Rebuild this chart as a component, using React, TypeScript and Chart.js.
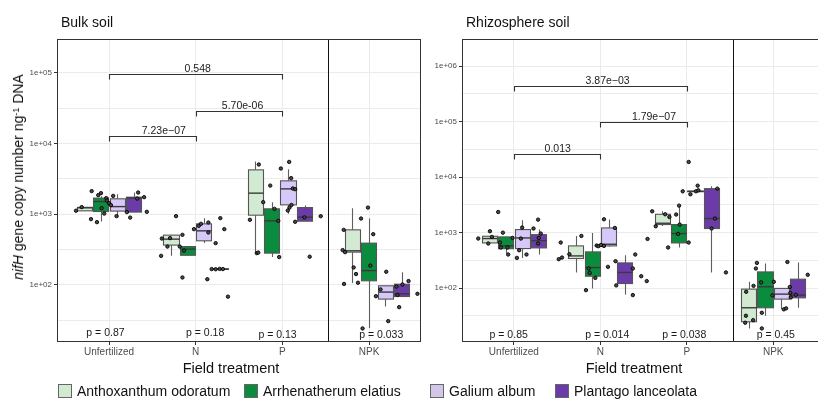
import React, { useEffect, useRef } from 'react';
import { Chart, registerables } from 'chart.js';

Chart.register(...registerables);

const FONT = '"Liberation Sans", Arial, Helvetica, sans-serif';

const treatments = ['Unfertilized', 'N', 'P', 'NPK'];
const species = ['Anthoxanthum odoratum', 'Arrhenatherum elatius', 'Galium album', 'Plantago lanceolata'];
const fillColors = ['#d2e9d2', '#0b8b3d', '#d6c8f8', '#6b3ca7'];
const legendColors = ['#d2e9d2', '#0b8b3d', '#d3c6ea', '#6b3ca7'];

// Box statistics: [lower whisker, Q1, median, Q3, upper whisker] for Unfertilized, N, P, NPK
const bulkAntho = [[1110, 1115, 1230, 1250, 1260], [257, 365, 443, 505, 510], [286, 968, 1985, 4240, 5560], [106, 290, 303, 600, 1215]];
const bulkArrh = [[787, 1090, 1510, 1690, 1790], [257, 262, 320, 348, 352], [247, 281, 805, 1190, 1480], [24.4, 114, 159, 389, 867]];
const bulkGalium = [[895, 1105, 1280, 1650, 1920], [390, 420, 581, 729, 879], [1010, 1355, 2280, 2965, 4340], [49.3, 62.8, 78.9, 96.8, 98]];
const bulkPlantago = [[1070, 1070, 1690, 1740, 2020], [162, 165, 167, 168, 170], [796, 796, 908, 1240, 1325], [68, 68.3, 74.6, 102, 151]];

const rhizoAntho = [[640, 653, 783, 861, 870], [192, 342, 381, 577, 873], [1318, 1400, 1477, 2143, 2427], [18.8, 24.8, 44.3, 96, 130]];
const rhizoArrh = [[421, 513, 581, 838, 840], [98.8, 164, 235, 450, 988], [540, 653, 964, 1400, 3020], [31.8, 44.3, 106, 196, 278]];
const rhizoGalium = [[351, 517, 803, 1137, 1670], [560, 577, 618, 1216, 1722], [5500, 5540, 5560, 5580, 5600], [41.9, 63.4, 78, 98.8, 100]];
const rhizoPlantago = [[404, 531, 718, 920, 1137], [77, 121, 192, 285, 393], [192, 1187, 1795, 6210, 6840], [44.3, 66.9, 74.8, 145, 290]];

// Individual observations (x in treatment units incl. jitter, y copy number)
const bulkPointX = [
  -0.381, -0.315, -0.208, -0.2, -0.139, -0.124, -0.093, -0.085, -0.055, -0.032, -0.024, 0, 0.022, 0.048, 0.087, 0.206, 0.244, 0.336, 0.325, 0.405, 0.436,
  0.601, 0.609, 0.674, 0.704, 0.773, 0.816, 0.847, 0.847, 0.865, 0.98, 1.035, 1.061, 1.134, 1.146, 1.146, 1.23, 1.284, 1.33, 1.372, 1.184, 1.23, 1.276, 1.314,
  1.728, 1.625, 1.705, 1.722, 1.779, 1.86, 1.909, 1.952, 1.963, 1.982, 2.078, 2.101, 2.12, 2.147, 2.062, 2.082, 2.105, 2.147, 2.254, 2.442, 2.315,
  2.707, 2.695, 2.723, 2.711, 2.822, 2.849, 2.872, 2.907, 2.987, 3.014, 3.048, 2.925, 3.079, 3.132, 3.198, 3.221, 3.316, 3.328, 3.347, 3.385, 3.455, 3.558,
];
const bulkPointY = [
  1120, 1260, 851, 2120, 771, 1860, 1985, 1217, 1020, 1690, 1560, 1430, 1343, 1815, 938, 1070, 895, 2027, 1663, 1741, 1080,
  257, 452, 348, 458, 938, 348, 510, 127, 305, 614, 684, 730, 120, 762, 550, 389, 879, 614, 68, 167, 166, 168, 167,
  5050, 832, 281, 286, 1480, 2540, 1190, 805, 247, 4430, 5500, 3240, 2310, 2260, 1127, 1240, 1350, 780, 900, 937, 250,
  600, 310, 290, 103, 176, 142, 107, 867, 1240, 187, 521, 24.1, 69, 86, 153, 30.6, 94.6, 72, 48.3, 101, 113, 74.6,
];
const rhizoPointX = [
  -0.412, -0.277, -0.254, -0.296, -0.181, -0.127, -0.161, -0.15, -0.073, -0.066, -0.015, 0.096, 0.081, 0.061, 0.035, 0.146, 0.28, 0.227, 0.311, 0.288, 0.28,
  0.542, 0.519, 0.557, 0.642, 0.781, 0.834, 0.865, 0.877, 0.942, 0.957, 0.977, 1.007, 1.042, 1.042, 1.088, 1.168, 1.176, 1.184, 1.376, 1.376, 1.404, 1.473, 1.537,
  1.546, 1.6, 1.641, 1.75, 1.799, 1.784, 1.877, 1.9, 1.918, 1.911, 2.022, 1.953, 2.022, 2.042, 2.107, 2.134, 2.126, 2.353, 2.326, 2.287, 2.453,
  2.676, 2.684, 2.687, 2.772, 2.768, 2.799, 2.811, 2.86, 2.868, 2.868, 3.007, 2.991, 3.122, 3.149, 3.164, 3.192, 3.198, 3.203, 3.261, 3.399,
];
const rhizoPointY = [
  783, 1060, 838, 637, 2355, 1000, 664, 540, 540, 404, 804, 1236, 783, 482, 351, 404, 1717, 1187, 964, 803, 637,
  664, 333, 356, 409, 873, 92, 226, 188, 153, 586, 570, 600, 1742, 577, 242, 1216, 306, 112, 226, 75, 404, 164, 134,
  771, 2427, 1303, 2143, 1915, 540, 2120, 948, 1400, 3070, 664, 5560, 18800, 4910, 5560, 5800, 7030, 6210, 1795, 1187, 192,
  23.8, 31.8, 86, 110, 26.5, 226, 285, 127, 36, 18.8, 130, 74, 41.5, 43.2, 296, 105, 82, 68, 76, 174,
];

// Y gridlines / tick labels
const bulkYGrid = [31.62, 100, 316.2, 1000, 3162, 10000, 31620, 100000];
const bulkYLabels = ['', '1e+02', '', '1e+03', '', '1e+04', '', '1e+05'];
const rhizoYGrid = [31.62, 100, 316.2, 1000, 3162, 10000, 31620, 100000, 316200, 1000000];
const rhizoYLabels = ['', '1e+02', '', '1e+03', '', '1e+04', '', '1e+05', '', '1e+06'];

// Pairwise comparison brackets
const bulkBracketFrom = [0, 1, 0];
const bulkBracketTo = [1, 2, 2];
const bulkBracketY = [12700, 29200, 96900];
const bulkBracketLabels = ['7.23e\u221207', '5.70e-06', '0.548'];
const bulkBracketLabelX = [0.632, 1.54, 1.023];
const rhizoBracketFrom = [0, 1, 0];
const rhizoBracketTo = [1, 2, 2];
const rhizoBracketY = [26100, 97500, 431000];
const rhizoBracketLabels = ['0.013', '1.79e\u221207', '3.87e\u221203'];
const rhizoBracketLabelX = [0.507, 1.62, 1.084];

// Kruskal-Wallis p-values per treatment
const bulkPLabels = ['p = 0.87', 'p = 0.18', 'p = 0.13', 'p = 0.033'];
const bulkPX = [-0.041, 1.109, 1.944, 3.14];
const bulkPY = [20.9, 20.9, 19.6, 19.6];
const rhizoPLabels = ['p = 0.85', 'p = 0.014', 'p = 0.038', 'p = 0.45'];
const rhizoPX = [-0.06, 1.08, 1.97, 3.03];
const rhizoPY = [14.3, 14.3, 14.3, 14.3];

const DODGE = [-0.285, -0.095, 0.095, 0.285];
const BOX_HALF = 0.087;
const SEPARATOR = 2.53;

type PanelCfg = {
  boxes: number[][][];
  shift: number[];
  px: number[];
  py: number[];
  yMin: number;
  yMax: number;
  yGrid: number[];
  yLabels: string[];
  bFrom: number[];
  bTo: number[];
  bY: number[];
  bLabels: string[];
  bLabelX: number[];
  pLabels: string[];
  pX: number[];
  pY: number[];
  axisWidth: number;
  canvasWidth: number;
};

const bulkCfg: PanelCfg = {
  boxes: [bulkAntho, bulkArrh, bulkGalium, bulkPlantago],
  shift: [0, 0, -0.03, 0.09],
  px: bulkPointX, py: bulkPointY,
  yMin: 15.5, yMax: 302000,
  yGrid: bulkYGrid, yLabels: bulkYLabels,
  bFrom: bulkBracketFrom, bTo: bulkBracketTo, bY: bulkBracketY, bLabels: bulkBracketLabels, bLabelX: bulkBracketLabelX,
  pLabels: bulkPLabels, pX: bulkPX, pY: bulkPY,
  axisWidth: 57, canvasWidth: 426,
};

const rhizoCfg: PanelCfg = {
  boxes: [rhizoAntho, rhizoArrh, rhizoGalium, rhizoPlantago],
  shift: [0, 0, 0, 0],
  px: rhizoPointX, py: rhizoPointY,
  yMin: 10.7, yMax: 3090000,
  yGrid: rhizoYGrid, yLabels: rhizoYLabels,
  bFrom: rhizoBracketFrom, bTo: rhizoBracketTo, bY: rhizoBracketY, bLabels: rhizoBracketLabels, bLabelX: rhizoBracketLabelX,
  pLabels: rhizoPLabels, pX: rhizoPX, pY: rhizoPY,
  axisWidth: 36, canvasWidth: 404,
};

function makePlugin(cfg: PanelCfg) {
  return {
    id: 'panelDeco',
    beforeDatasetsDraw(chart: any) {
      const { ctx, chartArea: a, scales } = chart;
      const x = scales.x, y = scales.y;
      ctx.save();
      ctx.beginPath();
      ctx.rect(a.left, a.top, a.right - a.left, a.bottom - a.top);
      ctx.clip();
      cfg.boxes.forEach((series, s) => {
        series.forEach((st, t) => {
          const cx = t + cfg.shift[t] + DODGE[s];
          const pc = Math.round(x.getPixelForValue(cx)) + 0.5;
          const xl = Math.round(x.getPixelForValue(cx - BOX_HALF)) + 0.5;
          const xr = Math.round(x.getPixelForValue(cx + BOX_HALF)) + 0.5;
          const [lo, q1, md, q3, hi] = st.map((v) => y.getPixelForValue(v));
          ctx.strokeStyle = '#5e5e5e';
          ctx.lineWidth = 1.1;
          ctx.beginPath();
          ctx.moveTo(pc, hi); ctx.lineTo(pc, q3);
          ctx.moveTo(pc, q1); ctx.lineTo(pc, lo);
          ctx.stroke();
          ctx.fillStyle = fillColors[s];
          const h = Math.max(q1 - q3, 0.5);
          ctx.fillRect(xl, q3, xr - xl, h);
          ctx.strokeStyle = '#555555';
          ctx.strokeRect(xl, q3, xr - xl, h);
          ctx.strokeStyle = '#3a3a3a';
          ctx.lineWidth = 1.4;
          ctx.beginPath();
          ctx.moveTo(xl, md); ctx.lineTo(xr, md);
          ctx.stroke();
        });
      });
      ctx.restore();
    },
    afterDatasetsDraw(chart: any) {
      const { ctx, chartArea: a, scales } = chart;
      const x = scales.x, y = scales.y;
      ctx.save();
      const sx = Math.round(x.getPixelForValue(SEPARATOR)) + 0.5;
      ctx.strokeStyle = '#111';
      ctx.lineWidth = 1;
      ctx.beginPath();
      ctx.moveTo(sx, a.top); ctx.lineTo(sx, a.bottom);
      ctx.stroke();
      ctx.font = `10.5px ${FONT}`;
      ctx.fillStyle = '#1a1a1a';
      ctx.textAlign = 'center';
      ctx.textBaseline = 'alphabetic';
      cfg.bY.forEach((v, i) => {
        const yy = Math.round(y.getPixelForValue(v)) + 0.5;
        const x1 = Math.round(x.getPixelForValue(cfg.bFrom[i])) + 0.5;
        const x2 = Math.round(x.getPixelForValue(cfg.bTo[i])) + 0.5;
        ctx.strokeStyle = '#333';
        ctx.lineWidth = 1.1;
        ctx.beginPath();
        ctx.moveTo(x1, yy + 5); ctx.lineTo(x1, yy); ctx.lineTo(x2, yy); ctx.lineTo(x2, yy + 5);
        ctx.stroke();
        ctx.fillText(cfg.bLabels[i], x.getPixelForValue(cfg.bLabelX[i]), yy - 2.5);
      });
      ctx.textBaseline = 'middle';
      cfg.pLabels.forEach((lab, i) => {
        ctx.fillText(lab, x.getPixelForValue(cfg.pX[i]), y.getPixelForValue(cfg.pY[i]));
      });
      ctx.strokeStyle = '#333';
      ctx.lineWidth = 1;
      ctx.strokeRect(Math.round(a.left) + 0.5, Math.round(a.top) + 0.5, Math.round(a.right - a.left) - 1, Math.round(a.bottom - a.top) - 1);
      ctx.restore();
    },
  };
}

function Panel({ cfg, left }: { cfg: PanelCfg; left: number }) {
  const ref = useRef<HTMLCanvasElement>(null);
  useEffect(() => {
    const canvas = ref.current;
    if (!canvas) return;
    const chart = new Chart(canvas, {
      type: 'scatter',
      data: {
        datasets: [
          {
            label: 'observations',
            data: cfg.px.map((vx, i) => ({ x: vx, y: cfg.py[i] })),
            pointRadius: 1.7,
            pointBackgroundColor: '#4a4a4a',
            pointBorderColor: '#000',
            pointBorderWidth: 0.9,
          },
        ],
      },
      options: {
        animation: false,
        responsive: false,
        maintainAspectRatio: false,
        devicePixelRatio: 1,
        events: [],
        layout: { padding: { top: 39, right: 4, bottom: 0, left: 0 } },
        plugins: { legend: { display: false }, tooltip: { enabled: false }, title: { display: false } },
        scales: {
          x: {
            type: 'linear',
            min: -0.6,
            max: 3.6,
            afterBuildTicks: (scale: any) => {
              scale.ticks = treatments.map((_, i) => ({ value: i }));
            },
            afterFit: (scale: any) => { scale.height = 57; },
            ticks: {
              autoSkip: false,
              maxRotation: 0,
              padding: 1,
              color: '#4d4d4d',
              font: { family: FONT, size: 10 },
              callback: (_v: any, i: number) => treatments[i],
            },
            grid: { color: '#ebebeb', lineWidth: 1, tickLength: 3, tickColor: '#333', drawTicks: true },
            border: { display: false },
          },
          y: {
            type: 'logarithmic',
            min: cfg.yMin,
            max: cfg.yMax,
            afterBuildTicks: (scale: any) => {
              scale.ticks = cfg.yGrid.map((v) => ({ value: v }));
            },
            afterFit: (scale: any) => { scale.width = cfg.axisWidth; },
            ticks: {
              autoSkip: false,
              padding: 2,
              color: '#4d4d4d',
              font: { family: FONT, size: 8 },
              callback: (_v: any, i: number) => cfg.yLabels[i],
            },
            grid: {
              color: '#ebebeb',
              lineWidth: 1,
              tickLength: 3,
              tickColor: (c: any) => (cfg.yLabels[c.index] ? '#333' : 'rgba(0,0,0,0)'),
            },
            border: { display: false },
          },
        },
      },
      plugins: [makePlugin(cfg)],
    } as any);
    return () => chart.destroy();
  }, [cfg]);
  return (
    <canvas
      ref={ref}
      width={cfg.canvasWidth}
      height={399}
      style={{ position: 'absolute', left, top: 0, width: cfg.canvasWidth, height: 399 }}
    />
  );
}

const legendLeft = [58, 244, 430, 555];

export default function App() {
  const txt: React.CSSProperties = { position: 'absolute', fontFamily: FONT, color: '#111', whiteSpace: 'nowrap' };
  return (
    <div style={{ position: 'fixed', left: 0, top: 0, width: 818, height: 399, overflow: 'hidden', background: '#fff' }}>
      <Panel cfg={bulkCfg} left={0} />
      <Panel cfg={rhizoCfg} left={426} />
      <div style={{ ...txt, left: 61, top: 13, fontSize: 14, lineHeight: '18px' }}>Bulk soil</div>
      <div style={{ ...txt, left: 466, top: 13, fontSize: 14, lineHeight: '18px' }}>Rhizosphere soil</div>
      <div
        style={{
          ...txt,
          left: 18,
          top: 177,
          fontSize: 14,
          lineHeight: '16px',
          transform: 'translate(-50%, -50%) rotate(-90deg)',
        }}
      >
        <i>nifH</i> gene copy number ng
        <span style={{ fontSize: 9, verticalAlign: '0.5em', lineHeight: 0 }}>-1</span> DNA
      </div>
      <div style={{ ...txt, left: 231, top: 359, fontSize: 14.5, lineHeight: '18px', transform: 'translateX(-50%)' }}>Field treatment</div>
      <div style={{ ...txt, left: 634, top: 359, fontSize: 14.5, lineHeight: '18px', transform: 'translateX(-50%)' }}>Field treatment</div>
      {species.map((name, i) => (
        <div key={name} style={{ position: 'absolute', left: legendLeft[i], top: 383, height: 16, display: 'flex', alignItems: 'center' }}>
          <div style={{ width: 14, height: 14, boxSizing: 'border-box', border: '1px solid #666', background: legendColors[i] }} />
          <span style={{ marginLeft: 5, fontFamily: FONT, fontSize: 14, color: '#111', whiteSpace: 'nowrap' }}>{name}</span>
        </div>
      ))}
    </div>
  );
}
